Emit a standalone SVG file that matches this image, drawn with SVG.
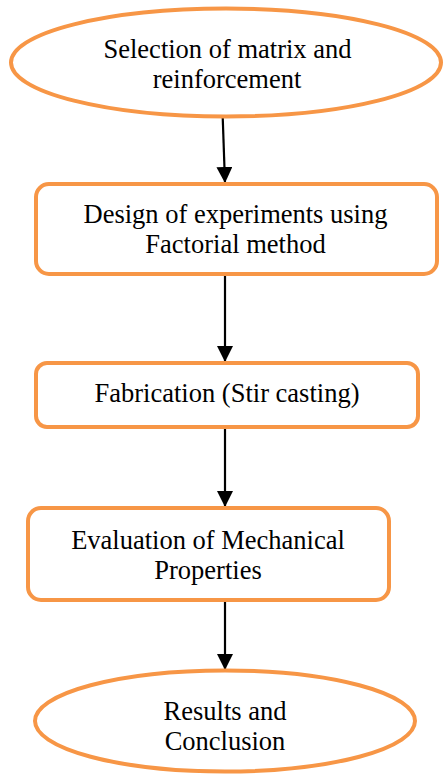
<svg xmlns="http://www.w3.org/2000/svg" width="443" height="774" viewBox="0 0 443 774">
  <style>
    .shape { fill: #ffffff; stroke: #F79646; stroke-width: 4; }
    .label { font-family: "Liberation Serif", "Times New Roman", serif; font-size: 26.5px; fill: #000000; text-anchor: middle; }
    .edge { stroke: #000000; stroke-width: 2.2; fill: none; }
  </style>
  <defs>
    <marker id="arrow" markerWidth="16" markerHeight="16" refX="16" refY="8" orient="auto" markerUnits="userSpaceOnUse">
      <path d="M0,0 L16,8 L0,16 Z" fill="#000000"/>
    </marker>
  </defs>
  <rect width="443" height="774" fill="#ffffff"/>

  <g id="connectors">
    <line class="edge" x1="222.7" y1="117" x2="225" y2="183" marker-end="url(#arrow)"/>
    <line class="edge" x1="225" y1="275" x2="225" y2="362" marker-end="url(#arrow)"/>
    <line class="edge" x1="225" y1="428" x2="225" y2="507" marker-end="url(#arrow)"/>
    <line class="edge" x1="225" y1="601" x2="225" y2="670" marker-end="url(#arrow)"/>
  </g>

  <g id="selection">
    <ellipse class="shape" cx="226" cy="62.5" rx="215" ry="54"/>
    <text class="label" x="227.5" y="58">Selection of matrix and</text>
    <text class="label" x="227" y="88">reinforcement</text>
  </g>

  <g id="design">
    <rect class="shape" x="36" y="184" width="401" height="90" rx="13"/>
    <text class="label" x="235.5" y="223">Design of experiments using</text>
    <text class="label" x="235.5" y="253">Factorial method</text>
  </g>

  <g id="fabrication">
    <rect class="shape" x="36" y="363" width="382" height="64" rx="11"/>
    <text class="label" x="227" y="402">Fabrication (Stir casting)</text>
  </g>

  <g id="evaluation">
    <rect class="shape" x="28" y="508" width="361" height="92" rx="13"/>
    <text class="label" x="208" y="549">Evaluation of Mechanical</text>
    <text class="label" x="208" y="579">Properties</text>
  </g>

  <g id="results">
    <ellipse class="shape" cx="225" cy="721" rx="190" ry="50.5"/>
    <text class="label" x="225" y="720">Results and</text>
    <text class="label" x="225" y="750">Conclusion</text>
  </g>
</svg>
